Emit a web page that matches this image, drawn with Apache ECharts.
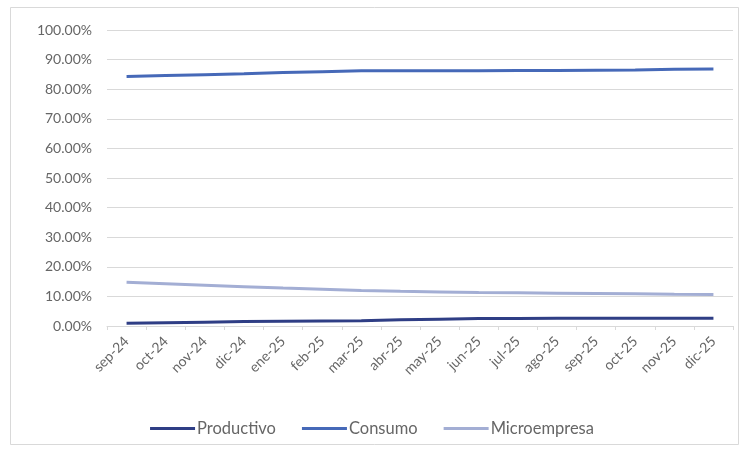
<!DOCTYPE html>
<html>
<head>
<meta charset="utf-8">
<script src="https://cdn.jsdelivr.net/npm/echarts@6/dist/echarts.min.js"></script>
<style>
  html, body { margin: 0; padding: 0; background: #ffffff; }
  #chart { width: 744px; height: 453px; }
</style>
</head>
<body>
<div id="chart"></div>
<script>
// Monthly share of the loan portfolio by segment (percent)
const months = ['sep-24','oct-24','nov-24','dic-24','ene-25','feb-25','mar-25','abr-25',
                'may-25','jun-25','jul-25','ago-25','sep-25','oct-25','nov-25','dic-25'];
const productivo   = [0.9, 1.1, 1.3, 1.5, 1.6, 1.7, 1.8, 2.1, 2.3, 2.5, 2.5, 2.6, 2.6, 2.6, 2.6, 2.6];
const consumo      = [84.3, 84.6, 84.9, 85.2, 85.6, 85.9, 86.2, 86.2, 86.2, 86.2, 86.3, 86.3, 86.4, 86.5, 86.7, 86.8];
const microempresa = [14.8, 14.3, 13.8, 13.3, 12.8, 12.4, 12.0, 11.7, 11.5, 11.3, 11.2, 11.1, 11.0, 10.9, 10.7, 10.6];
const yTicks = { min: 0, max: 100, interval: 10 };

const FONT = 'Lato, "Open Sans", sans-serif';
const chart = echarts.init(document.getElementById('chart'), null, { renderer: 'canvas' });

function lineSeries(name, data, color) {
  return {
    name, type: 'line', data,
    symbol: 'none',
    lineStyle: { color, width: 3 },
    itemStyle: { color },
    emphasis: { disabled: true }
  };
}

chart.setOption({
  animation: false,
  backgroundColor: '#ffffff',
  graphic: [{
    type: 'rect',
    shape: { x: 10.5, y: 7.5, width: 728, height: 437 },
    style: { fill: '#ffffff', stroke: '#d9d9d9', lineWidth: 1 },
    z: -10
  }],
  grid: { left: 107, right: 11, top: 30, bottom: 127, containLabel: false },
  xAxis: {
    type: 'category',
    data: months,
    boundaryGap: true,
    axisLine: { lineStyle: { color: '#d9d9d9' } },
    axisTick: { show: true, alignWithLabel: false, length: 4, lineStyle: { color: '#d9d9d9' } },
    axisLabel: {
      rotate: 45, color: '#666666', fontSize: 14, fontFamily: FONT, margin: 13, interval: 0
    }
  },
  yAxis: {
    type: 'value',
    min: yTicks.min, max: yTicks.max, interval: yTicks.interval,
    axisLine: { show: false },
    axisTick: { show: false },
    splitLine: { lineStyle: { color: '#d9d9d9', width: 1 } },
    axisLabel: {
      color: '#666666', fontSize: 14, fontFamily: FONT, margin: 15,
      formatter: v => v.toFixed(2) + '%'
    }
  },
  legend: {
    top: 415, left: 'center',
    icon: 'rect', itemWidth: 45, itemHeight: 3, itemGap: 26,
    textStyle: { color: '#666666', fontSize: 16.5, fontFamily: FONT, padding: [0, 0, 0, -3] },
    data: ['Productivo', 'Consumo', 'Microempresa']
  },
  series: [
    lineSeries('Productivo', productivo, '#2f3e85'),
    lineSeries('Consumo', consumo, '#4669b8'),
    lineSeries('Microempresa', microempresa, '#a3aed4')
  ]
});
</script>
</body>
</html>
